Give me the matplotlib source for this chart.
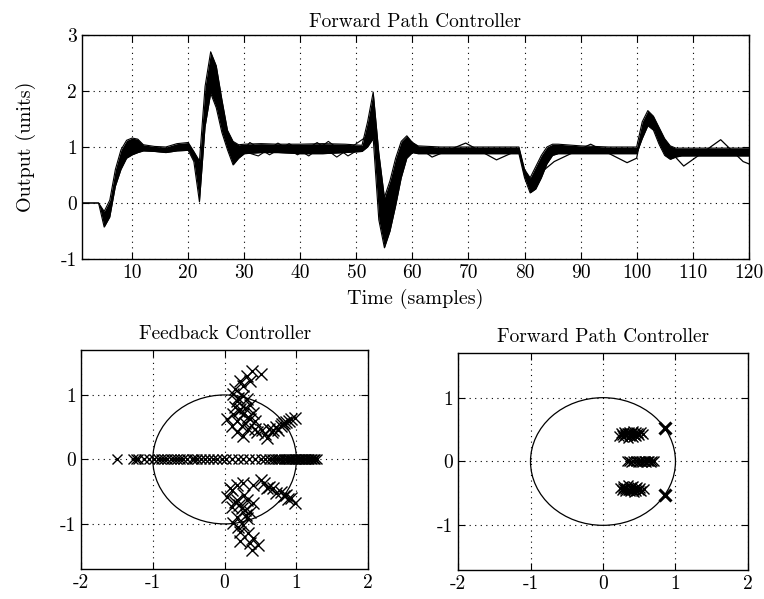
import matplotlib
matplotlib.use("Agg")
import matplotlib.pyplot as plt
from matplotlib.patches import Circle

plt.rcParams['font.family'] = ['cmr10', 'DejaVu Serif']
plt.rcParams['axes.unicode_minus'] = False
plt.rcParams['mathtext.fontset'] = 'cm'

# --- top panel: band of output responses (upper / lower edges)
t_band = [1, 4, 5, 6, 7, 8, 9, 10, 11, 12, 14, 16, 18, 20, 21, 22, 23, 24, 25, 26,
          27, 28, 29, 30, 33, 36, 40, 44, 48, 51, 52, 53, 54, 55, 56, 57, 58, 59, 60, 61,
          65, 70, 75, 79, 80, 81, 82, 83, 84, 85, 86, 90, 95, 100, 101, 102, 103, 104, 105, 106,
          107, 108, 110, 115, 120]
y_upper = [0, 0, -0.15, 0.05, 0.6, 0.95, 1.12, 1.16, 1.14, 1.04, 1.01, 1.0, 1.06, 1.08, 0.92, 0.75, 2.08, 2.7, 2.45, 1.85,
           1.3, 1.1, 1.04, 1.05, 1.06, 1.05, 1.05, 1.06, 1.05, 1.03, 1.45, 1.98, 0.9, 0.1, 0.4, 0.8, 1.1, 1.2, 1.08, 1.02,
           1.0, 1.0, 1.0, 1.0, 0.6, 0.45, 0.65, 0.85, 1.0, 1.05, 1.05, 1.02, 1.0, 1.0, 1.45, 1.65, 1.55, 1.35, 1.15, 1.02,
           0.98, 0.98, 0.98, 0.98, 0.98]
y_lower = [0, 0, -0.43, -0.25, 0.3, 0.6, 0.8, 0.86, 0.9, 0.93, 0.92, 0.9, 0.93, 0.94, 0.74, 0.02, 1.36, 1.96, 1.7, 1.26,
           0.95, 0.68, 0.8, 0.88, 0.9, 0.9, 0.88, 0.88, 0.9, 0.92, 1.0, 1.15, -0.3, -0.8, -0.5, -0.05, 0.45, 0.8, 0.9, 0.88,
           0.88, 0.88, 0.88, 0.88, 0.45, 0.18, 0.25, 0.45, 0.7, 0.85, 0.88, 0.88, 0.88, 0.88, 1.15, 1.38, 1.3, 1.05, 0.85, 0.78,
           0.82, 0.84, 0.84, 0.84, 0.84]

# a few oscillating responses that stick out of the band
t_osc_a = [28, 31, 34.5, 38, 41.5, 45, 48.5, 52]
y_osc_a = [0.75, 1.08, 0.86, 1.06, 0.84, 1.1, 0.84, 1.05]
t_osc_b = [29, 32.5, 36, 39.5, 43, 46.5, 50, 52]
y_osc_b = [0.95, 0.84, 1.07, 0.86, 1.08, 0.82, 1.06, 1.2]
t_osc_c = [59, 63.5, 69.5, 75, 79, 80, 81, 83, 85.3, 91.8, 98.3, 100, 101, 102.5, 104, 106, 108.4, 115, 119, 120]
y_osc_c = [1.15, 0.82, 1.07, 0.77, 0.95, 0.5, 0.3, 0.55, 0.74, 1.05, 0.72, 0.8, 1.3, 1.58, 1.3, 0.92, 0.66, 1.13, 0.74, 0.7]

# --- bottom left: feedback controller poles (re, im)
fb_re = [0.38, 0.5, 0.31, 0.22, 0.36, 0.26, 0.15, 0.12, 0.26, 0.31, 0.17, 0.36, 0.22, 0.26, 0.12, 0.03, 0.17, 0.36, 0.43,
         0.24, 0.10, 0.26, 0.17, 0.33, 0.43, 0.52, 0.59, 0.62, 0.71, 0.78, 0.85, 0.89, 0.98, 0.75, 0.66, 0.45, 0.80, 0.68,
         0.20, 0.28, 0.33, 0.19, 0.29, 0.14, 0.40, 0.92, 0.83, 0.56,
         0.08, 0.17, 0.26, 0.5, 0.40, 0.59, 0.68, 0.78, 0.85, 0.92, 0.98, 0.03, 0.17, 0.31, 0.40, 0.10, 0.24, 0.36, 0.17,
         0.31, 0.12, 0.26, 0.22, 0.33, 0.40, 0.22, 0.36, 0.47, 0.38, 0.10, 0.55, 0.72, 0.88,
         0.20, 0.28, 0.15, 0.30, 0.19, 0.27, 0.82, 0.62]
fb_im = [1.37, 1.32, 1.29, 1.22, 1.22, 1.14, 1.09, 1.01, 0.98, 0.93, 0.91, 0.84, 0.78, 0.70, 0.70, 0.63, 0.60, 0.63, 0.60,
         0.52, 0.52, 0.37, 0.42, 0.47, 0.47, 0.45, 0.34, 0.47, 0.50, 0.52, 0.58, 0.60, 0.65, 0.45, 0.42, 0.42, 0.55, 0.46,
         0.75, 0.80, 0.66, 0.95, 0.57, 0.82, 0.72, 0.62, 0.56, 0.40,
         -0.45, -0.40, -0.37, -0.32, -0.40, -0.45, -0.45, -0.50, -0.55, -0.60, -0.68, -0.58, -0.63, -0.63, -0.68, -0.73, -0.76,
         -0.81, -0.89, -0.91, -0.99, -1.02, -1.12, -1.14, -1.22, -1.27, -1.30, -1.32, -1.40, -0.48, -0.36, -0.52, -0.62,
         -0.70, -0.78, -0.66, -0.86, -1.05, -0.55, -0.57, -0.42]
fb_real = [-1.5, -1.27, -1.24, -1.2, -1.12, -1.05, -0.98, -0.93, -0.88, -0.84, -0.8, -0.75, -0.7, -0.66, -0.62, -0.58,
           -0.52, -0.46, -0.42, -0.38, -0.33, -0.28, -0.22, -0.16, -0.1, -0.04, 0.02, 0.1, 0.18, 0.26, 0.34, 0.42, 0.5,
           0.56, 0.62, 0.66, 0.7, 0.73, 0.76, 0.79, 0.82, 0.85, 0.88, 0.9, 0.92, 0.94, 0.96, 0.98, 1.0, 1.02, 1.04, 1.06,
           1.08, 1.1, 1.12, 1.14, 1.16, 1.18, 1.2, 1.22, 1.24, 1.26, 1.28]

# --- bottom right: forward path controller poles
fp_re = [0.22, 0.25, 0.27, 0.29, 0.31, 0.33, 0.34, 0.36, 0.38, 0.40, 0.41, 0.43, 0.45, 0.46, 0.48, 0.50, 0.52, 0.55,
         0.30, 0.37, 0.42, 0.26, 0.35, 0.44,
         0.23, 0.26, 0.28, 0.30, 0.32, 0.34, 0.35, 0.37, 0.39, 0.41, 0.42, 0.44, 0.46, 0.47, 0.49, 0.51, 0.53, 0.56,
         0.31, 0.38, 0.43, 0.27, 0.36, 0.45,
         0.33, 0.36, 0.39, 0.42, 0.45, 0.48, 0.50, 0.52, 0.54, 0.56, 0.58, 0.60, 0.62, 0.64, 0.66, 0.68, 0.70]
fp_im = [0.40, 0.44, 0.38, 0.46, 0.41, 0.44, 0.37, 0.47, 0.42, 0.45, 0.38, 0.43, 0.47, 0.40, 0.44, 0.41, 0.46, 0.43,
         0.43, 0.40, 0.48, 0.41, 0.44, 0.41,
         -0.41, -0.45, -0.38, -0.47, -0.42, -0.45, -0.37, -0.46, -0.41, -0.44, -0.39, -0.43, -0.47, -0.40, -0.44, -0.42,
         -0.46, -0.43, -0.43, -0.40, -0.48, -0.41, -0.44, -0.41,
         0.0, 0.01, -0.01, 0.0, 0.01, -0.01, 0.0, 0.01, -0.01, 0.0, 0.01, -0.01, 0.0, 0.01, -0.01, 0.0, 0.0]
fp_bold_re = [0.86, 0.86]
fp_bold_im = [0.52, -0.52]

fig = plt.figure(figsize=(7.64, 5.99), dpi=100)
ax1 = fig.add_axes([0.107, 0.5676, 0.873, 0.374])
ax2 = fig.add_axes([0.106, 0.050, 0.376, 0.366])
ax3 = fig.add_axes([0.5995, 0.0484, 0.3795, 0.3623])

grid_kw = dict(color='black', linestyle=(0, (1, 4)), linewidth=0.8)

def style(ax):
    ax.tick_params(direction='in', top=True, right=True, labelsize=14, length=5, width=0.8)
    for s in ax.spines.values():
        s.set_linewidth(1.0)
    ax.grid(True, **grid_kw)

# top
ax1.fill_between(t_band, y_lower, y_upper, color='black', linewidth=0)
ax1.plot(t_band, y_upper, color='black', linewidth=0.8)
ax1.plot(t_band, y_lower, color='black', linewidth=0.8)
ax1.plot(t_osc_a, y_osc_a, color='black', linewidth=0.8)
ax1.plot(t_osc_b, y_osc_b, color='black', linewidth=0.8)
ax1.plot(t_osc_c, y_osc_c, color='black', linewidth=0.9)
ax1.set_xlim(1, 120)
ax1.set_ylim(-1, 3)
ax1.set_xticks(range(10, 121, 10))
ax1.set_yticks([-1, 0, 1, 2, 3])
ax1.set_title('Forward Path Controller', fontsize=14, pad=6)
ax1.set_xlabel('Time (samples)', fontsize=14.5, labelpad=5)
ax1.set_ylabel('Output (units)', fontsize=14.5, labelpad=18)
style(ax1)

# bottom left
ax2.add_patch(Circle((0, 0), 1, fill=False, color='black', linewidth=0.9))
ax2.plot(fb_re, fb_im, linestyle='none', marker='x', markersize=8, color='black', markeredgewidth=1.0)
ax2.plot(fb_real, [0] * len(fb_real), linestyle='none', marker='x', markersize=7, color='black', markeredgewidth=1.0)
ax2.set_xlim(-2, 2)
ax2.set_ylim(-1.7, 1.7)
ax2.set_xticks([-2, -1, 0, 1, 2])
ax2.set_yticks([-1, 0, 1])
ax2.set_title('Feedback Controller', fontsize=14, pad=8)
style(ax2)

# bottom right
ax3.add_patch(Circle((0, 0), 1, fill=False, color='black', linewidth=0.9))
ax3.plot(fp_re, fp_im, linestyle='none', marker='x', markersize=7, color='black', markeredgewidth=1.0)
ax3.plot(fp_bold_re, fp_bold_im, linestyle='none', marker='x', markersize=9, color='black', markeredgewidth=2.2)
ax3.set_xlim(-2, 2)
ax3.set_ylim(-1.7, 1.7)
ax3.set_xticks([-2, -1, 0, 1, 2])
ax3.set_yticks([-1, 0, 1])
ax3.set_title('Forward Path Controller', fontsize=14, pad=8)
style(ax3)

fig.savefig('out.png', dpi=100)
